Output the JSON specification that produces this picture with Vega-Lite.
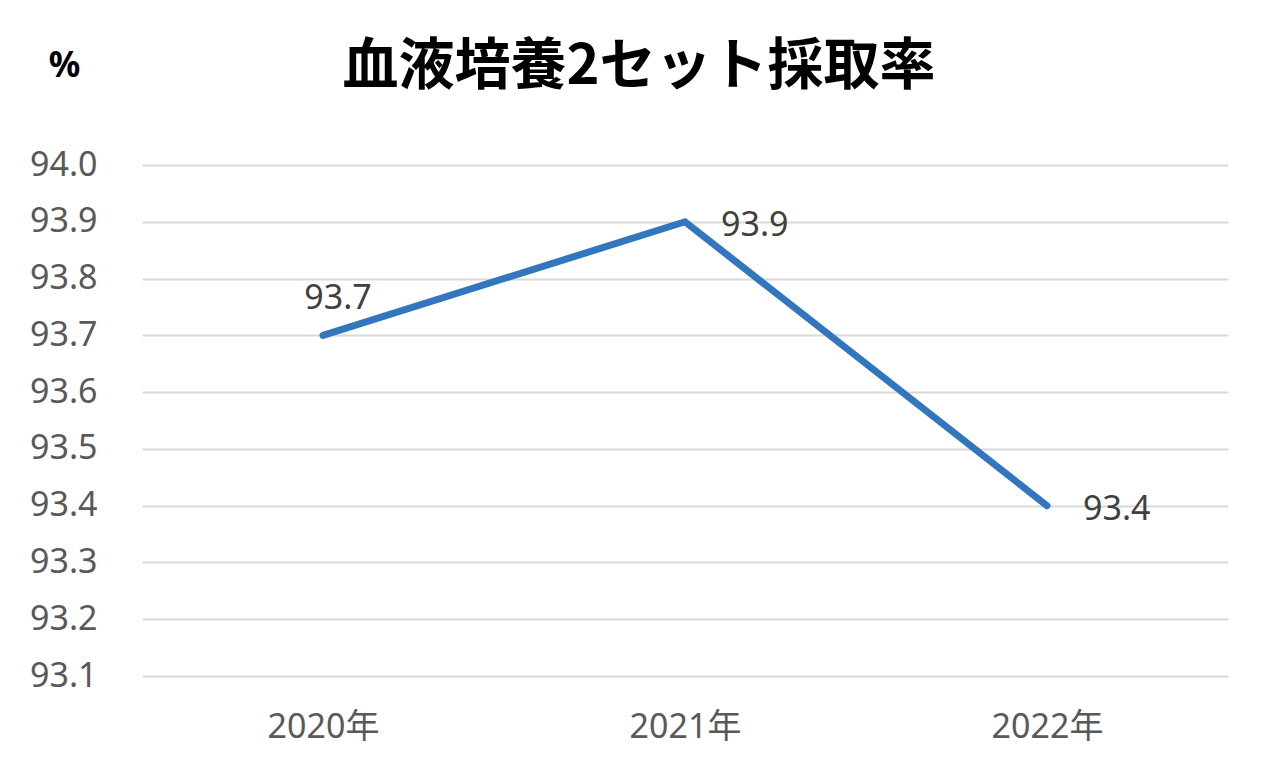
{
  "$schema": "https://vega.github.io/schema/vega-lite/v6.json",
  "autosize": "none",
  "width": 1086,
  "height": 511,
  "padding": {"left": 142, "top": 165, "right": 52, "bottom": 107},
  "background": "white",
  "config": {"view": {"stroke": null}},
  "title": {
    "text": "血液培養2セット採取率",
    "font": "Noto Sans CJK JP",
    "fontWeight": "bold",
    "fontSize": 56,
    "color": "#000000",
    "anchor": "middle",
    "frame": "group",
    "dx": -46,
    "offset": -48
  },
  "data": {
    "values": [
      {"year": "2020年", "rate": 93.7},
      {"year": "2021年", "rate": 93.9},
      {"year": "2022年", "rate": 93.4}
    ]
  },
  "encoding": {
    "x": {
      "field": "year",
      "type": "ordinal",
      "scale": {"type": "point", "padding": 0.5},
      "axis": {
        "title": null,
        "labelAngle": 0,
        "domain": false,
        "ticks": false,
        "labelPadding": 34,
        "labelFont": "Noto Sans, Noto Sans CJK JP",
        "labelFontSize": 34,
        "labelColor": "#595959"
      }
    },
    "y": {
      "field": "rate",
      "type": "quantitative",
      "scale": {"domain": [93.1, 94.0], "nice": false, "zero": false},
      "axis": {
        "title": "%",
        "titleAngle": 0,
        "titleX": -78,
        "titleY": -100,
        "titleAlign": "center",
        "titleBaseline": "middle",
        "titleFont": "Noto Sans",
        "titleFontSize": 35,
        "titleFontWeight": "bold",
        "titleColor": "#000000",
        "values": [93.1, 93.2, 93.3, 93.4, 93.5, 93.6, 93.7, 93.8, 93.9, 94.0],
        "format": ".1f",
        "domain": false,
        "ticks": false,
        "labelPadding": 45,
        "labelFont": "Noto Sans",
        "labelFontSize": 34,
        "labelColor": "#595959",
        "grid": true,
        "gridColor": "#d9d9d9",
        "gridWidth": 2
      }
    }
  },
  "layer": [
    {
      "mark": {"type": "line", "color": "#3277bd", "strokeWidth": 7, "strokeCap": "round", "strokeJoin": "miter"}
    },
    {
      "transform": [{"filter": "datum.year == '2020年'"}],
      "mark": {"type": "text", "align": "center", "baseline": "middle", "dx": 15, "dy": -36, "font": "Noto Sans", "fontSize": 34, "color": "#404040"},
      "encoding": {"text": {"field": "rate", "type": "quantitative", "format": ".1f"}}
    },
    {
      "transform": [{"filter": "datum.year != '2020年'"}],
      "mark": {"type": "text", "align": "left", "baseline": "middle", "dx": 36, "dy": 4, "font": "Noto Sans", "fontSize": 34, "color": "#404040"},
      "encoding": {"text": {"field": "rate", "type": "quantitative", "format": ".1f"}}
    }
  ]
}
